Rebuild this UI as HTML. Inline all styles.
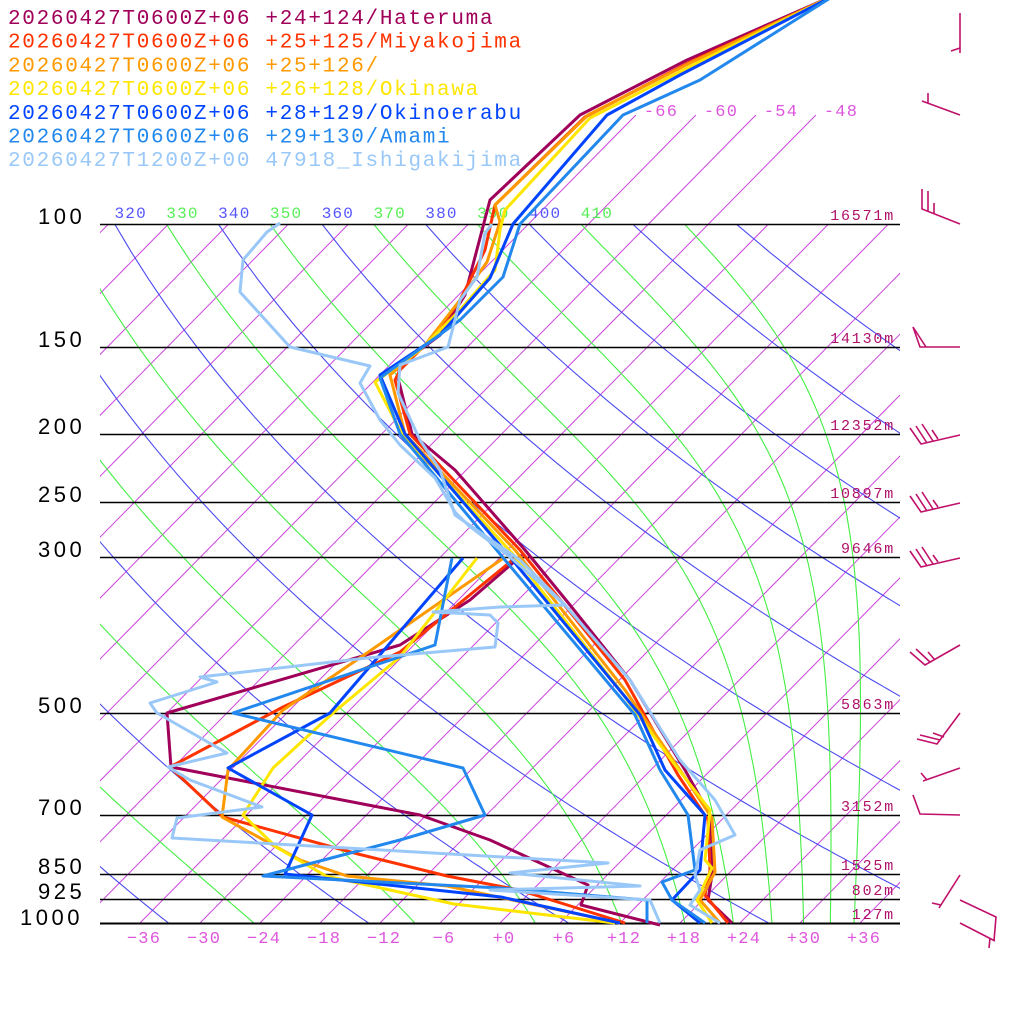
<!DOCTYPE html>
<html><head><meta charset="utf-8">
<style>
html,body{margin:0;padding:0;background:#fff;}
svg{display:block;}
.leg{font-family:"Liberation Mono",monospace;font-size:21px;letter-spacing:1.7px;}
.pl{font-family:"Liberation Sans",sans-serif;font-size:22px;letter-spacing:3.5px;fill:#000;}
.hl{font-family:"Liberation Mono",monospace;font-size:15px;letter-spacing:1.8px;fill:#b0106a;}
.xl{font-family:"Liberation Mono",monospace;font-size:17px;letter-spacing:1.2px;fill:#dd55dd;}
.al{font-family:"Liberation Mono",monospace;font-size:16px;letter-spacing:1.2px;}
</style></head><body>
<svg id="s" width="1024" height="1024" viewBox="0 0 1024 1024" xmlns="http://www.w3.org/2000/svg">
<defs>
<clipPath id="cMain"><rect x="100" y="224" width="800" height="699"/></clipPath>
<clipPath id="cTop"><rect x="100" y="115" width="800" height="808"/></clipPath>
<clipPath id="cLab"><rect x="96" y="190" width="810" height="40"/></clipPath>
</defs>
<g id="bg"></g>
<g id="traces" fill="none" stroke-width="3" stroke-linejoin="round"></g>
<g id="fg"></g>
</svg>
<script>
(function(){
var K=0.985;
function yOf(p){return 923-303.6*Math.log(1000/p);}
function xOf(T,y){return 500+10*T+K*(923-y);}
var bg='';
for(var T=-150;T<=60;T+=6){
  var y1=923,y2=115;
  var d='M'+xOf(T,y1).toFixed(1)+','+y1+' L'+xOf(T,y2).toFixed(1)+','+y2;
  var clip=(T<=-48&&T>=-66)?'cTop':'cMain';
  bg+='<path d="'+d+'" stroke="#cc44dd" stroke-width="1" fill="none" clip-path="url(#'+clip+')"/>';
}
function dryPath(th){
  var s='';
  for(var p=90;p<=1060;p+=10){
    var T=th*Math.pow(p/1000,0.2857)-273.15;var y=yOf(p);
    s+=(s?'L':'M')+xOf(T,y).toFixed(1)+','+y.toFixed(1)+' ';
  }
  return s;
}
for(var th=200;th<=440;th+=20){
  bg+='<path d="'+dryPath(th)+'" stroke="#4a4af0" stroke-width="1.1" fill="none" clip-path="url(#cMain)"/>';
}
function es(Tc){return 6.112*Math.exp(17.67*Tc/(Tc+243.5));}
function lapse(T,p){
  var Rd=287.04,cp=1005.7,Lv=2.501e6,eps=0.622;
  var e=es(T-273.15);var rs=eps*e/Math.max(p-e,1);
  return (Rd*T+Lv*rs)/(cp+Lv*Lv*rs*eps/(Rd*T*T));
}
function moistPath(th){
  var p=100,T=th*Math.pow(0.1,0.2857);
  var pts=[[T,p]];
  var lp=Math.log(p),step=0.01;
  while(p<1060){
    var k1=lapse(T,Math.exp(lp));
    var k2=lapse(T+k1*step,Math.exp(lp+step));
    T+=0.5*(k1+k2)*step;lp+=step;p=Math.exp(lp);
    pts.push([T,p]);
  }
  var s='';
  for(var i=0;i<pts.length;i+=2){
    var y=yOf(pts[i][1]);
    s+=(s?'L':'M')+xOf(pts[i][0]-273.15,y).toFixed(1)+','+y.toFixed(1)+' ';
  }
  return s;
}
for(var th=230;th<=430;th+=20){
  bg+='<path d="'+moistPath(th)+'" stroke="#44ee44" stroke-width="1.1" fill="none" clip-path="url(#cMain)"/>';
}
var labs='';
for(var th=310;th<=410;th+=10){
  var T=th*Math.pow(0.1,0.2857)-273.15;var x=xOf(T,224);
  var c=(th%20==0)?'#5555ff':'#55ee55';
  labs+='<text class="al" x="'+x.toFixed(1)+'" y="218" fill="'+c+'">'+th+'</text>';
}
bg+='<g clip-path="url(#cLab)">'+labs+'</g>';
[-66,-60,-54,-48].forEach(function(t){
  bg+='<text class="xl" x="'+(xOf(t,115)+8).toFixed(1)+'" y="116" >'+(t)+'</text>';
});
var P=[[100,'16571m'],[150,'14130m'],[200,'12352m'],[250,'10897m'],[300,'9646m'],[500,'5863m'],[700,'3152m'],[850,'1525m'],[925,'802m'],[1000,'127m']];
P.forEach(function(a){
  var y=Math.round(yOf(a[0]));
  bg+='<line x1="100" x2="900" y1="'+y+'.5" y2="'+y+'.5" stroke="#000" stroke-width="'+(a[0]==1000?2:1.4)+'"/>';
  bg+='<text class="hl" x="895" y="'+(y-4)+'" text-anchor="end">'+a[1]+'</text>';
  bg+='<text class="pl" x="'+(a[0]==1000?20:38)+'" y="'+(y+(a[0]==1000?2:0))+'">'+a[0]+'</text>';
});
for(var t=-36;t<=36;t+=6){
  var s=(t>=0?'+':'')+t;
  s=s.replace('-','\u2212');
  bg+='<text class="xl" x="'+(500+10*t+4)+'" y="943" text-anchor="middle">'+s+'</text>';
}
document.getElementById('bg').innerHTML=bg;

var S=[
 ['#a0005a',[[835,-5],[687,60],[580,115],[490,200],[465,295],[440,335],[400,365],[398,378],[412,434],[455,470],[525,550],[570,605],[630,680],[685,770],[710,815],[712,875],[708,900],[732,923]],
  [[522,555],[470,600],[400,645],[167,713],[171,767],[420,815],[490,840],[588,885],[581,905],[660,925]]],
 ['#ff3300',[[835,-5],[690,62],[585,117],[495,205],[485,250],[460,300],[435,335],[400,370],[395,380],[410,434],[520,550],[625,680],[678,775],[708,820],[710,870],[705,895],[728,923]],
  [[515,558],[400,652],[283,707],[170,767],[223,817],[358,854],[447,876],[519,890],[625,923]]],
 ['#ff9900',[[835,-5],[692,62],[588,115],[495,205],[500,222],[487,262],[460,300],[425,345],[390,375],[405,434],[515,550],[625,690],[680,770],[712,818],[715,872],[700,900],[720,923]],
  [[505,557],[367,653],[283,710],[228,770],[222,817],[300,860],[347,876],[447,886],[620,923]]],
 ['#ffe600',[[835,-5],[695,64],[590,118],[505,210],[500,230],[495,270],[460,310],[420,350],[375,382],[402,434],[512,553],[620,690],[675,765],[710,810],[705,860],[712,868],[697,900],[712,923]],
  [[477,558],[400,657],[333,713],[273,768],[243,815],[276,847],[326,876],[454,904],[615,923]]],
 ['#0044ff',[[835,-5],[680,75],[607,115],[513,224],[490,278],[440,335],[380,375],[405,434],[510,557],[640,715],[665,770],[705,815],[700,870],[672,900],[700,923]],
  [[463,558],[330,713],[228,768],[312,815],[285,874],[501,897],[620,923]]],
 ['#2288ee',[[835,-5],[700,80],[623,115],[520,224],[503,277],[460,320],[380,378],[400,434],[505,560],[635,715],[660,770],[688,815],[695,870],[662,882],[672,900],[705,923]],
  [[452,558],[435,645],[233,713],[463,768],[485,815],[400,840],[354,852],[263,876],[500,888],[647,900],[647,923]]],
 ['#99c8f8',[[492,224],[485,233],[477,277],[460,300],[448,347],[400,365],[398,393],[420,440],[440,470],[455,515],[520,560],[565,605],[630,680],[680,760],[715,800],[735,835],[700,850],[695,875],[700,890],[690,905],[720,923]],
  [[280,223],[267,232],[243,260],[240,292],[290,347],[370,366],[360,383],[380,420],[400,445],[435,478],[455,512],[468,525],[510,557],[565,605],[500,607],[433,612],[490,615],[498,623],[495,647],[367,658],[200,677],[217,682],[150,703],[157,713],[227,753],[168,767],[190,780],[262,807],[177,818],[172,838],[608,863],[510,873],[640,886],[490,890],[650,900],[660,923]]]
];
var tr='';
S.forEach(function(s){
  [s[1],s[2]].forEach(function(pts){
    tr+='<polyline stroke="'+s[0]+'" points="'+pts.map(function(p){return p[0]+','+p[1];}).join(' ')+'"/>';
  });
});
document.getElementById('traces').innerHTML=tr;

var fg='';
var L=[['#a0005a','20260427T0600Z+06 +24+124/Hateruma'],['#ff3300','20260427T0600Z+06 +25+125/Miyakojima'],['#ff9900','20260427T0600Z+06 +25+126/'],['#ffe600','20260427T0600Z+06 +26+128/Okinawa'],['#0044ff','20260427T0600Z+06 +28+129/Okinoerabu'],['#2288ee','20260427T0600Z+06 +29+130/Amami'],['#99c8f8','20260427T1200Z+00 47918_Ishigakijima']];
L.forEach(function(l,i){fg+='<text class="leg" x="8" y="'+(24+i*23.7).toFixed(1)+'" fill="'+l[0]+'">'+l[1]+'</text>';});
var B=[
 [[960,13],[960,53]],[[960,48],[951,51]],
 [[960,115],[922,101]],[[928,103],[928,93]],
 [[960,224],[922,209],[922,189]],[[928,211],[928,191]],[[934,214],[934,203]],
 [[960,347],[920,347],[913,327],[926,347]],
 [[960,435],[921,444],[910,428]],[[927,443],[916,426]],[[933,441],[922,424]],[[938,439],[932,430]],
 [[960,503],[921,512],[910,496]],[[927,511],[916,494]],[[933,509],[922,492]],[[938,507],[933,500]],
 [[960,558],[921,567],[910,551]],[[927,566],[916,549]],[[933,564],[922,547]],[[938,562],[933,555]],
 [[960,645],[925,665],[910,652]],[[930,662],[916,649]],[[935,660],[928,652]],
 [[960,713],[937,744],[917,739]],[[940,740],[920,735]],[[944,737],[933,733]],
 [[960,768],[923,781]],[[927,780],[921,773]],
 [[960,815],[920,814],[913,795]],
 [[960,875],[939,908]],[[941,905],[932,903]],
 [[960,900],[996,917],[994,941]],[[960,923],[995,941]],[[990,938],[989,948]]
];
B.forEach(function(b){fg+='<polyline fill="none" stroke="#c0106a" stroke-width="1.6" points="'+b.map(function(p){return p[0]+','+p[1];}).join(' ')+'"/>';});
document.getElementById('fg').innerHTML=fg;
})();
</script>
</body></html>
